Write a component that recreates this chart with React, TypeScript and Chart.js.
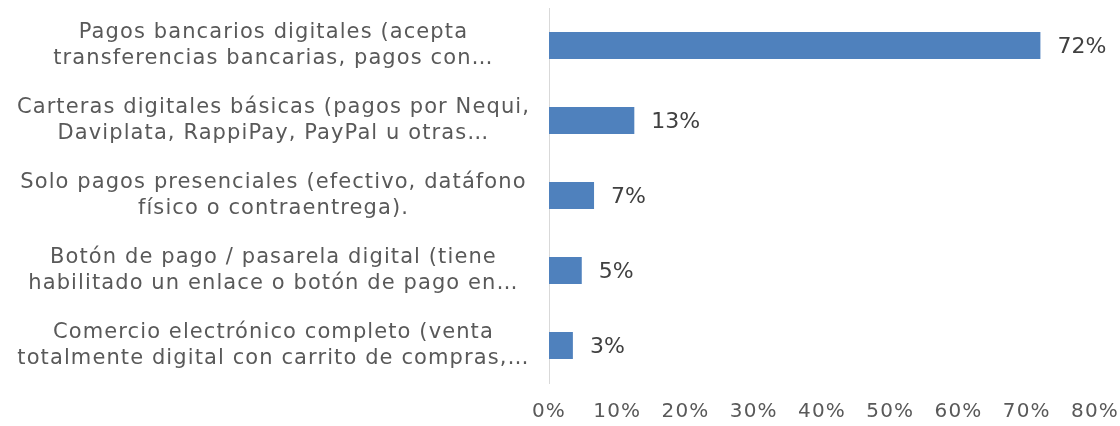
import React, { useEffect, useRef } from "react";
import { Chart, registerables } from "chart.js";

Chart.register(...registerables);

const categories: string[][] = [
  ["Pagos bancarios digitales (acepta", "transferencias bancarias, pagos con…"],
  ["Carteras digitales básicas (pagos por Nequi,", "Daviplata, RappiPay, PayPal u otras…"],
  ["Solo pagos presenciales (efectivo, datáfono", "físico o contraentrega)."],
  ["Botón de pago / pasarela digital (tiene", "habilitado un enlace o botón de pago en…"],
  ["Comercio electrónico completo (venta", "totalmente digital con carrito de compras,…"],
];
const values: number[] = [72, 12.5, 6.6, 4.8, 3.5];
const valueLabels: string[] = ["72%", "13%", "7%", "5%", "3%"];
const xTicks: number[] = [0, 10, 20, 30, 40, 50, 60, 70, 80];

const FONT = "'DejaVu Sans', sans-serif";
const TEXT = "#595959";
const SPACING = "1.1px";

const spacingPlugin = {
  id: "spacing",
  beforeUpdate(chart: any) {
    chart.ctx.letterSpacing = SPACING;
  },
  beforeDraw(chart: any) {
    chart.ctx.letterSpacing = SPACING;
  },
};

const dataLabelPlugin = {
  id: "dataLabels",
  afterDatasetsDraw(chart: any) {
    const ctx = chart.ctx;
    const meta = chart.getDatasetMeta(0);
    ctx.save();
    ctx.letterSpacing = "0px";
    ctx.font = `22px ${FONT}`;
    ctx.fillStyle = "#404040";
    ctx.textAlign = "left";
    ctx.textBaseline = "middle";
    meta.data.forEach((bar: any, i: number) => {
      ctx.fillText(valueLabels[i], bar.x + 17, bar.y + 2);
    });
    ctx.restore();
  },
};

export default function App() {
  const ref = useRef<HTMLCanvasElement | null>(null);
  useEffect(() => {
    document.body.style.margin = "0";
    const chart = new Chart(ref.current as HTMLCanvasElement, {
      type: "bar",
      data: {
        labels: categories,
        datasets: [
          {
            data: values,
            backgroundColor: "#4F81BD",
            borderWidth: 0,
            barPercentage: 0.36,
            categoryPercentage: 1,
          },
        ],
      },
      options: {
        indexAxis: "y",
        animation: false,
        responsive: true,
        maintainAspectRatio: false,
        layout: { padding: { top: 8, bottom: 0, left: 0, right: 0 } },
        plugins: {
          legend: { display: false },
          tooltip: { enabled: false },
        },
        scales: {
          x: {
            min: 0,
            max: 80,
            afterBuildTicks: (scale: any) => {
              scale.ticks = xTicks.map((v) => ({ value: v }));
            },
            afterFit: (scale: any) => {
              scale.height = 43;
              scale.paddingLeft = 0;
              scale.paddingRight = 25;
            },
            grid: { display: false, drawTicks: false },
            border: { display: false },
            ticks: {
              padding: 17,
              color: TEXT,
              font: { family: FONT, size: 20 },
              callback: (v: any) => `${v}%`,
            },
          },
          y: {
            grid: { display: false, drawTicks: false },
            border: { display: true, color: "#D9D9D9", width: 1 },
            afterFit: (scale: any) => {
              scale.width = 549;
              scale.paddingTop = 0;
              scale.paddingBottom = 0;
            },
            ticks: {
              crossAlign: "center",
              padding: 19,
              color: TEXT,
              font: { family: FONT, size: 21, lineHeight: 1.24 },
            },
          },
        },
      },
      plugins: [spacingPlugin, dataLabelPlugin],
    });
    return () => chart.destroy();
  }, []);
  return (
    <div style={{ width: 1120, height: 426, position: "relative" }}>
      <canvas ref={ref} />
    </div>
  );
}
